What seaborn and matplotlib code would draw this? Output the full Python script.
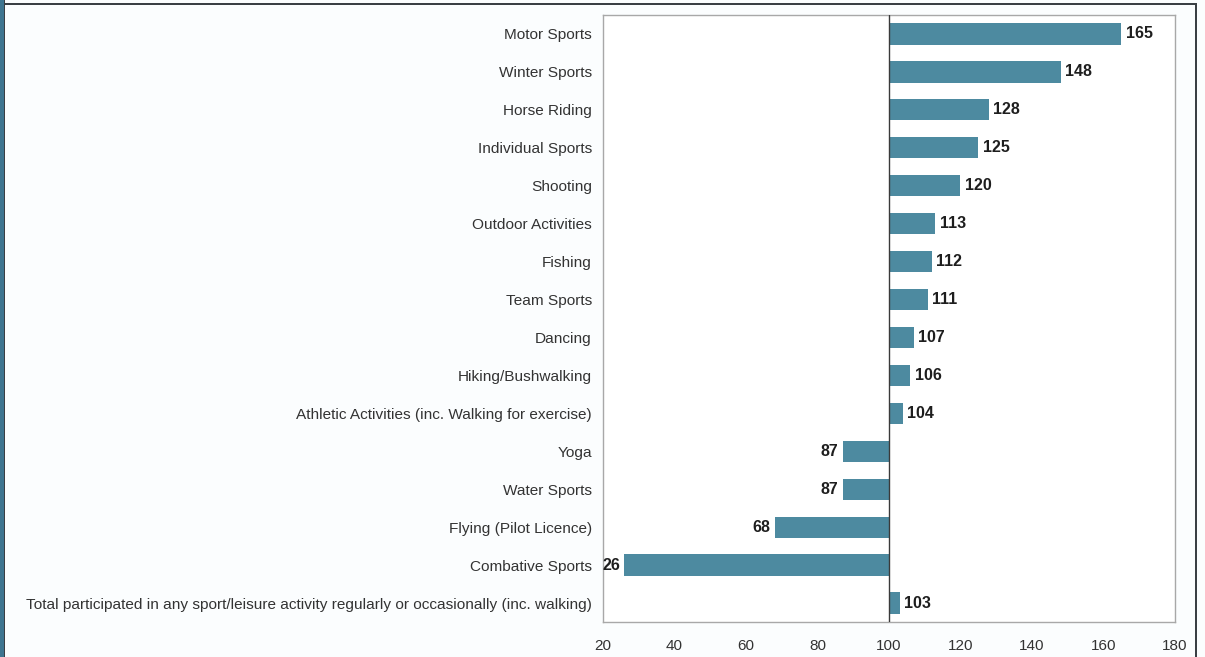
import matplotlib
matplotlib.use("Agg")
import matplotlib.pyplot as plt
import seaborn as sns
import pandas as pd
from matplotlib.patches import Rectangle

# Index values by activity (100 = average)
categories = [
    "Motor Sports",
    "Winter Sports",
    "Horse Riding",
    "Individual Sports",
    "Shooting",
    "Outdoor Activities",
    "Fishing",
    "Team Sports",
    "Dancing",
    "Hiking/Bushwalking",
    "Athletic Activities (inc. Walking for exercise)",
    "Yoga",
    "Water Sports",
    "Flying (Pilot Licence)",
    "Combative Sports",
    "Total participated in any sport/leisure activity regularly or occasionally (inc. walking)",
]
index_values = [165, 148, 128, 125, 120, 113, 112, 111, 107, 106, 104, 87, 87, 68, 26, 103]
x_ticks = [20, 40, 60, 80, 100, 120, 140, 160, 180]
baseline = 100

df = pd.DataFrame({"activity": categories, "index": index_values})

sns.set_theme(style="white")
plt.rcParams["font.family"] = ["Liberation Sans", "DejaVu Sans"]

fig = plt.figure(figsize=(12.05, 6.57), dpi=100)
fig.patch.set_facecolor("#fbfdfe")
ax = fig.add_axes([0.5004, 0.0533, 0.4747, 0.9239])
ax.set_facecolor("white")

bar_color = "#4d8aa0"
sns.barplot(data=df, x="index", y="activity", orient="h", color=bar_color,
            width=0.56, saturation=1, ax=ax, order=categories)

# Bars grow from the baseline of 100 rather than from zero
for patch, v in zip(ax.patches, index_values):
    patch.set_x(baseline)
    patch.set_width(v - baseline)
    patch.set_edgecolor("none")

for i, v in enumerate(index_values):
    if v >= baseline:
        ax.annotate(f"{v}", xy=(v, i), xytext=(3, 0), textcoords="offset points",
                    ha="left", va="center", fontsize=11.5, fontweight="bold",
                    color="#1e1e1e")
    else:
        ax.annotate(f"{v}", xy=(v, i), xytext=(-3, 0), textcoords="offset points",
                    ha="right", va="center", fontsize=11.5, fontweight="bold",
                    color="#1e1e1e")

ax.axvline(baseline, color="#3a3a3a", lw=1.0, zorder=3)

ax.set_xlim(20, 180)
ax.set_ylim(len(categories) - 0.5, -0.5)
ax.set_xticks(x_ticks)
ax.set_xticklabels([str(t) for t in x_ticks])
ax.set_xlabel("")
ax.set_ylabel("")
ax.tick_params(axis="x", length=0, pad=12, labelsize=11, labelcolor="#333333")
ax.tick_params(axis="y", length=0, pad=8, labelsize=11.1, labelcolor="#333333")

for s in ax.spines.values():
    s.set_visible(True)
    s.set_color("#a8a8a8")
    s.set_linewidth(1.0)

# Window frame around the figure
W, H = 1205, 657
fig.add_artist(Rectangle((0, 0), 4 / W, 1, transform=fig.transFigure,
                         facecolor="#3f7590", edgecolor="none"))
fig.add_artist(Rectangle((4 / W, 0), 1.5 / W, 1, transform=fig.transFigure,
                         facecolor="#3a3f44", edgecolor="none"))
fig.add_artist(Rectangle((4 / W, 1 - 5 / H), (1197 - 4) / W, 2 / H,
                         transform=fig.transFigure, facecolor="#3a3f44",
                         edgecolor="none"))
fig.add_artist(Rectangle((1195 / W, 0), 2 / W, 1 - 3 / H, transform=fig.transFigure,
                         facecolor="#3a3f44", edgecolor="none"))

fig.savefig("out.png", dpi=100, facecolor=fig.get_facecolor())
